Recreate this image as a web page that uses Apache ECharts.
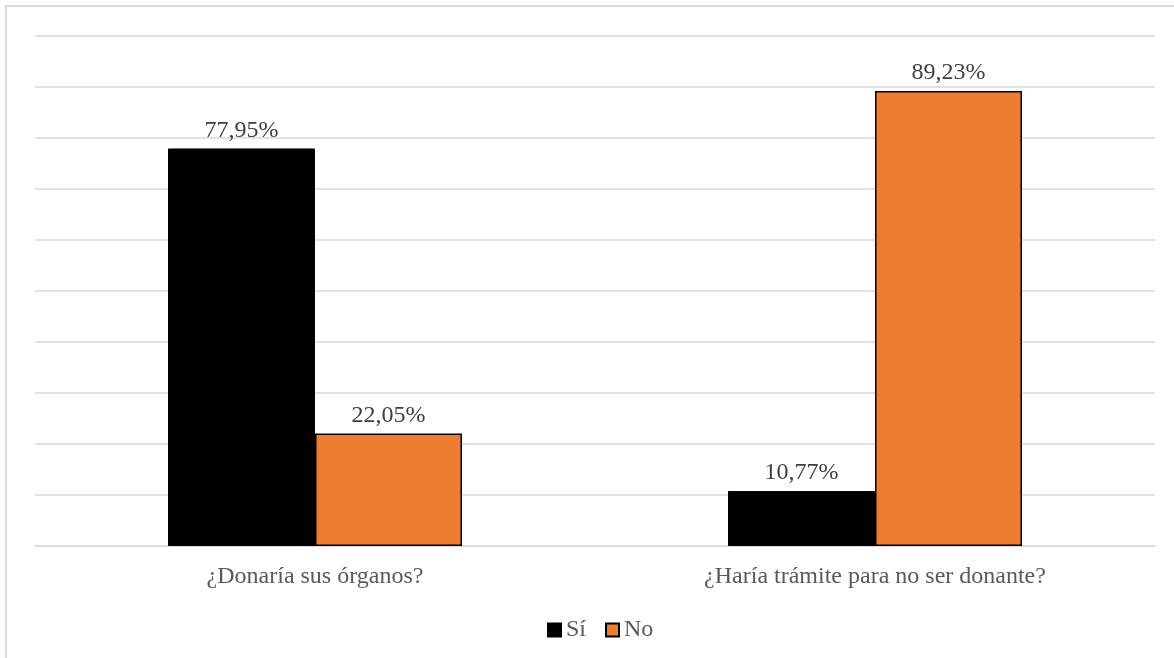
<!DOCTYPE html>
<html>
<head>
<meta charset="utf-8">
<script src="https://cdn.jsdelivr.net/npm/echarts@6/dist/echarts.min.js"></script>
<style>
  html, body { margin: 0; padding: 0; background: #fff; }
  #chart { width: 1174px; height: 658px; }
</style>
</head>
<body>
<div id="chart"></div>
<script>
// Survey questions and answer shares (percent)
const categories = ['¿Donaría sus órganos?', '¿Haría trámite para no ser donante?'];
const seriesNames = ['Sí', 'No'];
const siValues = [77.95, 10.77];
const noValues = [22.05, 89.23];

const FONT = '"Liberation Serif", "Times New Roman", serif';
const TEXT = '#595959';

const fmt = (v) => v.toFixed(2).replace('.', ',') + '%';

const chart = echarts.init(document.getElementById('chart'), null, { renderer: 'canvas' });

chart.setOption({
  backgroundColor: '#ffffff',
  animation: false,
  graphic: [{
    type: 'rect',
    shape: { x: 6, y: 6, width: 1190, height: 700 },
    style: { fill: 'none', stroke: '#d9d9d9', lineWidth: 2 },
    silent: true
  }],
  grid: { left: 35, right: 19, top: 36, bottom: 112, containLabel: false },
  legend: {
    left: 547,
    top: 618,
    padding: 0,
    itemWidth: 13,
    itemHeight: 13,
    itemGap: 19,
    icon: 'rect',
    textStyle: { fontFamily: FONT, fontSize: 24, color: TEXT },
    data: seriesNames
  },
  xAxis: {
    type: 'category',
    data: categories,
    axisLine: { show: true, lineStyle: { color: '#d9d9d9', width: 1.5 } },
    axisTick: { show: false },
    axisLabel: { fontFamily: FONT, fontSize: 24, color: TEXT, margin: 19 }
  },
  yAxis: {
    type: 'value',
    min: 0,
    max: 100,
    interval: 10,
    axisLine: { show: false },
    axisTick: { show: false },
    axisLabel: { show: false },
    splitLine: { lineStyle: { color: '#d9d9d9', width: 1.5 } }
  },
  series: [
    {
      name: seriesNames[0],
      type: 'bar',
      data: siValues,
      barGap: '0%',
      barCategoryGap: '47.5%',
      itemStyle: { color: '#000000', borderColor: '#000000', borderWidth: 1 },
      label: {
        show: true, position: 'top', distance: 6,
        fontFamily: FONT, fontSize: 24, color: '#404040',
        formatter: (p) => fmt(p.value)
      }
    },
    {
      name: seriesNames[1],
      type: 'bar',
      data: noValues,
      barGap: '0%',
      barCategoryGap: '47.5%',
      itemStyle: { color: '#ED7D31', borderColor: '#000000', borderWidth: 1.5 },
      label: {
        show: true, position: 'top', distance: 6,
        fontFamily: FONT, fontSize: 24, color: '#404040',
        formatter: (p) => fmt(p.value)
      }
    }
  ]
});
</script>
</body>
</html>
